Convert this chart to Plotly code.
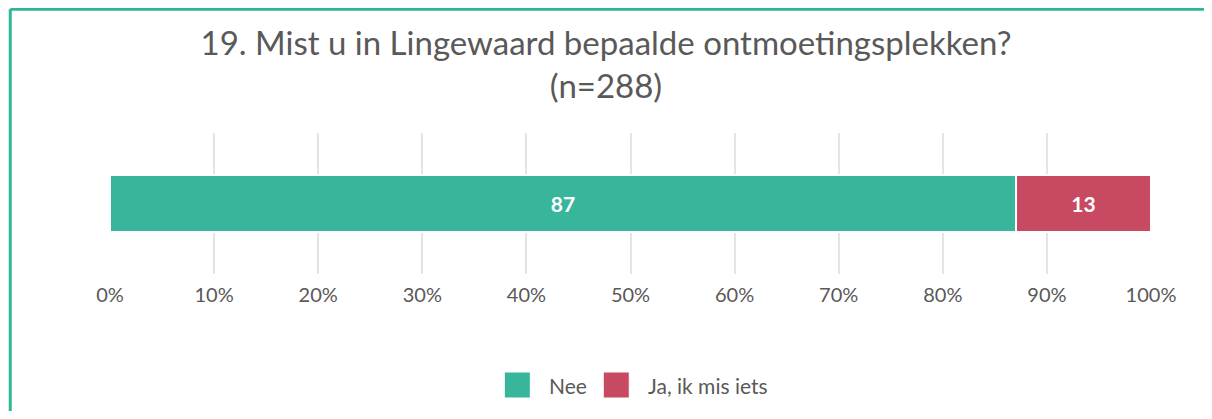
import plotly.graph_objects as go

category = ["Q19"]
series_names = ["Nee", "Ja, ik mis iets"]
series_values = [[87], [13]]
series_colors = ["#38B69B", "#C84A62"]
tick_vals = [0, 10, 20, 30, 40, 50, 60, 70, 80, 90, 100]
tick_text = [f"{v}%" for v in tick_vals]
title_text = "19. Mist u in Lingewaard bepaalde ontmoetingsplekken?<br>(n=288)"

OFF = 8  # page body margin
W, H = 1212 - 2 * OFF, 419 - 2 * OFF
# plot area in screen pixels: x 109.5..1151, y 133..274
ml = 109.5 - OFF
mr = (W + OFF) - 1151
mt = 133 - OFF
mb = (H + OFF) - 274
pw = W - ml - mr
ph = H - mt - mb


def xp(sx):
    return (sx - OFF - ml) / pw


def yp(sy):
    return (H - mb - (sy - OFF)) / ph


fig = go.Figure()
for name, vals, col in zip(series_names, series_values, series_colors):
    fig.add_trace(go.Bar(
        y=category, x=vals, name=name, orientation="h",
        marker=dict(color=col, line=dict(color="white", width=2)),
        text=vals, textposition="inside", insidetextanchor="middle",
        textfont=dict(color="white", size=21, family="Lato", weight="bold"),
        width=0.41, hoverinfo="skip", showlegend=False,
    ))

# border frame (teal), kept inside the figure bounds
border = "#2DB799"
bx = OFF + 1.7
fig.add_shape(type="line", xref="paper", yref="paper",
              x0=xp(bx), x1=xp(OFF + W), y0=yp(9.3), y1=yp(9.3),
              line=dict(color=border, width=3), layer="above")
fig.add_shape(type="line", xref="paper", yref="paper",
              x0=xp(bx), x1=xp(bx), y0=yp(9.3), y1=yp(OFF + H),
              line=dict(color=border, width=3), layer="above")

# legend (large square swatches)
legend_x = [504, 603]
sw = 26
legend_cy = 385
for name, col, lx in zip(series_names, series_colors, legend_x):
    fig.add_shape(type="rect", xref="paper", yref="paper",
                  x0=xp(lx), x1=xp(lx + sw),
                  y0=yp(legend_cy + sw / 2), y1=yp(legend_cy - sw / 2),
                  fillcolor=col, line=dict(color="white", width=1))
    fig.add_annotation(text=name, xref="paper", yref="paper",
                       x=xp(lx + sw + 17), y=yp(legend_cy),
                       xanchor="left", yanchor="middle", showarrow=False,
                       font=dict(size=21, color="#595959", family="Lato"))

fig.update_layout(
    width=W, height=H,
    margin=dict(l=ml, r=mr, t=mt, b=mb, pad=0, autoexpand=False),
    paper_bgcolor="white", plot_bgcolor="white",
    barmode="stack", bargap=0,
    font=dict(family="Lato", color="#595959"),
    title=dict(text=title_text, x=(606 - OFF) / W, xref="container",
               xanchor="center",
               y=1 - 47 / H, yref="container", yanchor="top",
               font=dict(size=33, color="#595959", family="Lato")),
    xaxis=dict(range=[0, 100], tickvals=tick_vals, ticktext=tick_text,
               showgrid=True, gridcolor="#E4E4E4", gridwidth=2,
               zeroline=False, showline=False,
               ticks="outside", ticklen=3, tickcolor="rgba(0,0,0,0)",
               tickfont=dict(size=20, color="#595959", family="Lato")),
    yaxis=dict(showticklabels=False, showgrid=False, zeroline=False,
               range=[-0.5, 0.5]),
    showlegend=False,
)

fig.write_html("out.html")
